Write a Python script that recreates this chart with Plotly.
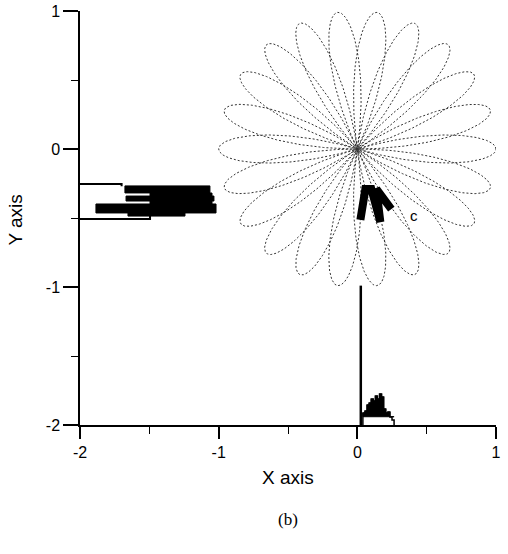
import numpy as np
import plotly.graph_objects as go

# ---- data ----
# rose (daisy) curve parameters: r = R*cos(K*theta), theta in [0, 4*pi]
ROSE_R = 1.0
ROSE_K = 5.5
ROSE_TURNS = 4 * np.pi

# vertical stem
stem_x = [0.025, 0.025]
stem_y = [-2.0, -0.99]

# thick trajectory "c"
path_x = [0.022, 0.058, 0.101, 0.166, 0.137, 0.245]
path_y = [-0.514, -0.290, -0.290, -0.529, -0.290, -0.435]
label_c = "c"
label_c_x, label_c_y = 0.41, -0.48

# left horizontal histogram (dense core rows)
left_y = [-0.293, -0.330, -0.359, -0.388, -0.431, -0.475]
left_h = [0.051, 0.022, 0.036, 0.022, 0.065, 0.022]
left_start = [-1.676, -1.495, -1.668, -1.495, -1.885, -1.654]
left_end = [-1.063, -1.048, -1.034, -1.048, -1.019, -1.243]
# left histogram outline (top step, bottom step)
left_out_top_x = [-2.0, -1.70, -1.70]
left_out_top_y = [-0.254, -0.254, -0.27]
left_out_bot_x = [-2.0, -1.495, -1.495]
left_out_bot_y = [-0.507, -0.507, -0.486]

# bottom histogram
bot_left = [0.04, 0.055, 0.07, 0.085, 0.10, 0.115, 0.13, 0.145, 0.16, 0.175,
            0.19, 0.205, 0.22, 0.235, 0.25]
bot_top = [-1.913, -1.899, -1.855, -1.841, -1.812, -1.826, -1.790, -1.812,
           -1.775, -1.797, -1.884, -1.913, -1.906, -1.942, -1.964]
bot_width = 0.015
bot_core_base = -1.94

x_ticks = [-2, -1, 0, 1]
y_ticks = [-2, -1, 0, 1]

# ---- figure ----
fig = go.Figure()

theta = np.linspace(0, ROSE_TURNS, 4000)
r = ROSE_R * np.cos(ROSE_K * theta)
fig.add_trace(go.Scatter(x=r * np.cos(theta), y=r * np.sin(theta), mode="lines",
                         line=dict(color="#333", width=1, dash="2px,2px"),
                         hoverinfo="skip"))

# left histogram core as filled rectangles
lx, ly = [], []
for yc, h, s, e in zip(left_y, left_h, left_start, left_end):
    lx += [s, e, e, s, s, None]
    ly += [yc - h / 2, yc - h / 2, yc + h / 2, yc + h / 2, yc - h / 2, None]
fig.add_trace(go.Scatter(x=lx, y=ly, mode="lines", fill="toself", fillcolor="black",
                         line=dict(color="black", width=1)))
fig.add_trace(go.Scatter(x=left_out_top_x + [None] + left_out_bot_x,
                         y=left_out_top_y + [None] + left_out_bot_y,
                         mode="lines", line=dict(color="black", width=2)))

# bottom histogram: core (filled) + outline
cx, cy = [bot_left[0]], [bot_core_base]
for xl, t in zip(bot_left, bot_top):
    tt = max(t, bot_core_base)
    cx += [xl, xl + bot_width]
    cy += [tt, tt]
cx += [bot_left[-1] + bot_width, bot_left[0]]
cy += [bot_core_base, bot_core_base]
fig.add_trace(go.Scatter(x=cx, y=cy, mode="lines", fill="toself", fillcolor="black",
                         line=dict(color="black", width=1)))
sx, sy = [bot_left[0]], [-2.0]
for xl, t in zip(bot_left, bot_top):
    sx += [xl, xl + bot_width]
    sy += [t, t]
sx.append(bot_left[-1] + bot_width)
sy.append(-2.0)
fig.add_trace(go.Scatter(x=sx, y=sy, mode="lines", line=dict(color="black", width=1.5)))

# stem
fig.add_trace(go.Scatter(x=stem_x, y=stem_y, mode="lines", line=dict(color="black", width=2.5)))

# thick path
fig.add_trace(go.Scatter(x=path_x, y=path_y, mode="lines", line=dict(color="black", width=8)))

fig.add_annotation(x=label_c_x, y=label_c_y, text=label_c, showarrow=False,
                   font=dict(family="Liberation Sans", size=15, color="black"))

axis_common = dict(range=[-2, 1], showline=True, linecolor="black", linewidth=1.5,
                   ticks="outside", tickwidth=1.5, tickcolor="black",
                   showgrid=False, zeroline=False,
                   tickfont=dict(family="Liberation Sans", size=16, color="black"),
                   minor=dict(ticks="outside", dtick=0.5, tick0=0, ticklen=7,
                              tickwidth=1.2, tickcolor="black", showgrid=False))

fig.update_xaxes(**axis_common, ticklen=12, tickvals=x_ticks,
                 ticktext=[str(v) for v in x_ticks])
fig.update_yaxes(**axis_common, ticklen=15, tickvals=y_ticks,
                 ticktext=[str(v) for v in y_ticks])

fig.add_annotation(xref="paper", yref="paper", x=-0.155, y=0.495, text="Y axis",
                   showarrow=False, textangle=-90, xanchor="center", yanchor="middle",
                   font=dict(family="Liberation Sans", size=19, color="black"))
fig.add_annotation(xref="paper", yref="paper", x=0.5, y=-0.128, text="X axis",
                   showarrow=False, yanchor="middle",
                   font=dict(family="Liberation Sans", size=19, color="black"))
fig.add_annotation(xref="paper", yref="paper", x=0.5, y=-0.229, text="(b)",
                   showarrow=False, yanchor="middle",
                   font=dict(family="Liberation Serif", size=17, color="black"))

fig.update_layout(width=508, height=554,
                  margin=dict(l=80, r=12, t=11, b=129, autoexpand=False),
                  paper_bgcolor="white", plot_bgcolor="white", showlegend=False)

fig.write_html("out.html", config={"displayModeBar": False},
               post_script="document.body.style.margin='0';")
